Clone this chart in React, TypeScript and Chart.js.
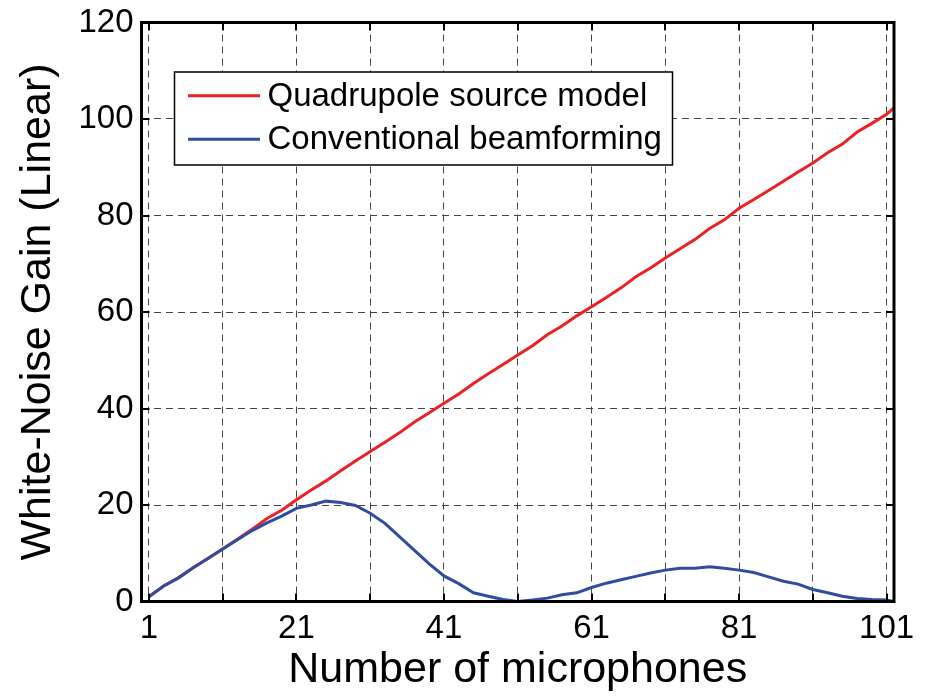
import React, { useEffect, useRef } from 'react';
import { Chart, registerables } from 'chart.js';

Chart.register(...registerables);

const micCounts = [
  1, 3, 5, 7, 9, 11, 13, 15, 17, 19,
  21, 23, 25, 27, 29, 31, 33, 35, 37, 39,
  41, 43, 45, 47, 49, 51, 53, 55, 57, 59,
  61, 63, 65, 67, 69, 71, 73, 75, 77, 79,
  81, 83, 85, 87, 89, 91, 93, 95, 97, 99,
  101, 102,
];

const quadrupoleGain = [
  1.0, 3.2, 4.9, 7.0, 8.9, 10.9, 12.9, 15.0, 17.2, 18.9,
  21.1, 23.1, 25.0, 27.1, 29.1, 31.1, 33.0, 35.0, 37.2, 39.1,
  41.1, 43.0, 45.2, 47.2, 49.1, 51.1, 53.0, 55.3, 57.1, 59.2,
  61.1, 63.0, 65.0, 67.3, 69.1, 71.2, 73.1, 75.0, 77.3, 79.1,
  81.5, 83.3, 85.2, 87.1, 89.0, 90.9, 93.0, 94.8, 97.3, 99.1,
  101.0, 102.3,
];

const conventionalGain = [
  1.0, 3.2, 4.9, 7.0, 8.9, 10.9, 12.8, 14.7, 16.3, 17.7,
  19.3, 20.0, 20.8, 20.5, 19.9, 18.3, 16.2, 13.4, 10.6, 7.8,
  5.3, 3.7, 1.8, 1.1, 0.4, 0.0, 0.3, 0.7, 1.4, 1.8,
  2.9, 3.8, 4.5, 5.2, 5.9, 6.5, 6.9, 6.9, 7.2, 6.9,
  6.5, 6.0, 5.1, 4.2, 3.6, 2.5, 1.8, 1.1, 0.6, 0.4,
  0.3, 0.0,
];

const seriesLabels = ['Quadrupole source model', 'Conventional beamforming'];
const xTickValues = [1, 11, 21, 31, 41, 51, 61, 71, 81, 91, 101];
const xLabelledTicks = [1, 21, 41, 61, 81, 101];
const yTickValues = [0, 20, 40, 60, 80, 100, 120];
const xTitle = 'Number of microphones';
const yTitle = 'White-Noise Gain (Linear)';

const FONT = '"Liberation Sans", Arial, Helvetica, sans-serif';
const RED = '#ED2024';
const BLUE = '#2E4DA0';

export default function App() {
  const ref = useRef<HTMLCanvasElement>(null);

  useEffect(() => {
    document.body.style.margin = '0';
    const canvas = ref.current;
    if (!canvas) return;

    const framePlugin = {
      id: 'matlabFrame',
      afterDatasetsDraw(chart: any) {
        const ctx = chart.ctx as CanvasRenderingContext2D;
        const { left, right, top, bottom } = chart.chartArea;
        const xs = chart.scales.x;
        const ys = chart.scales.y;
        ctx.save();
        ctx.strokeStyle = '#000';
        ctx.setLineDash([]);
        // inward ticks
        ctx.lineWidth = 2;
        const tl = 8;
        ctx.beginPath();
        for (const v of xTickValues) {
          const px = Math.round(xs.getPixelForValue(v));
          ctx.moveTo(px, bottom);
          ctx.lineTo(px, bottom - tl);
          ctx.moveTo(px, top);
          ctx.lineTo(px, top + tl);
        }
        for (const v of yTickValues) {
          const py = Math.round(ys.getPixelForValue(v));
          ctx.moveTo(left, py);
          ctx.lineTo(left + tl, py);
          ctx.moveTo(right, py);
          ctx.lineTo(right - tl, py);
        }
        ctx.stroke();
        // frame
        ctx.lineWidth = 3;
        ctx.strokeRect(left, top, right - left, bottom - top);

        // legend
        const bx = left + 33;
        const by = top + 49.5;
        const bw = 498;
        const bh = 93;
        ctx.fillStyle = '#fff';
        ctx.fillRect(bx, by, bw, bh);
        ctx.lineWidth = 1.5;
        ctx.strokeStyle = '#000';
        ctx.strokeRect(bx, by, bw, bh);
        ctx.font = `33px ${FONT}`;
        ctx.textBaseline = 'middle';
        ctx.textAlign = 'left';
        chart.data.datasets.forEach((ds: any, i: number) => {
          const y = by + 23.7 + i * 43.6;
          ctx.strokeStyle = ds.borderColor;
          ctx.lineWidth = 3;
          ctx.beginPath();
          ctx.moveTo(bx + 13.5, y);
          ctx.lineTo(bx + 85.5, y);
          ctx.stroke();
          ctx.fillStyle = '#000';
          ctx.fillText(ds.label, bx + 93, y + 1);
        });
        ctx.restore();
      },
    };

    const chart = new Chart(canvas, {
      type: 'line',
      data: {
        datasets: [
          {
            label: seriesLabels[0],
            data: micCounts.map((x, i) => ({ x, y: quadrupoleGain[i] })),
            borderColor: RED,
            backgroundColor: RED,
            borderWidth: 3,
            pointRadius: 0,
            tension: 0,
            order: 1,
          },
          {
            label: seriesLabels[1],
            data: micCounts.map((x, i) => ({ x, y: conventionalGain[i] })),
            borderColor: BLUE,
            backgroundColor: BLUE,
            borderWidth: 3,
            pointRadius: 0,
            tension: 0,
            order: 0,
          },
        ],
      },
      options: {
        animation: false,
        responsive: false,
        devicePixelRatio: 1,
        layout: { padding: { left: 0, top: 22.5, right: 35, bottom: 0 } },
        plugins: {
          legend: { display: false },
          tooltip: { enabled: false },
        },
        scales: {
          x: {
            type: 'linear',
            min: 0,
            max: 102,
            afterBuildTicks: (scale: any) => {
              scale.ticks = xTickValues.map((v) => ({ value: v }));
            },
            afterFit: (scale: any) => {
              scale.height = 95.5;
              scale.paddingLeft = 0;
              scale.paddingRight = 0;
            },
            grid: { color: '#444', lineWidth: 1, drawTicks: false },
            border: { display: false, dash: [7, 5] },
            ticks: {
              autoSkip: false,
              maxRotation: 0,
              padding: 8,
              color: '#000',
              font: { family: FONT, size: 33 },
              callback: (v: any) => (xLabelledTicks.includes(Number(v)) ? String(v) : ''),
            },
            title: {
              display: true,
              text: xTitle,
              color: '#000',
              font: { family: FONT, size: 43 },
              padding: { top: 0, bottom: 1 },
            },
          },
          y: {
            type: 'linear',
            min: 0,
            max: 120,
            afterBuildTicks: (scale: any) => {
              scale.ticks = yTickValues.map((v) => ({ value: v }));
            },
            afterFit: (scale: any) => {
              scale.width = 141.5;
              scale.paddingTop = 0;
              scale.paddingBottom = 0;
            },
            grid: { color: '#444', lineWidth: 1, drawTicks: false },
            border: { display: false, dash: [7, 5] },
            ticks: {
              padding: 8,
              color: '#000',
              font: { family: FONT, size: 33 },
            },
            title: {
              display: true,
              text: yTitle,
              color: '#000',
              font: { family: FONT, size: 43 },
              padding: { top: 12, bottom: 0 },
            },
          },
        },
      },
      plugins: [framePlugin],
    } as any);

    return () => chart.destroy();
  }, []);

  return (
    <div style={{ width: 929, height: 697 }}>
      <canvas ref={ref} width={929} height={697} style={{ display: 'block' }} />
    </div>
  );
}
